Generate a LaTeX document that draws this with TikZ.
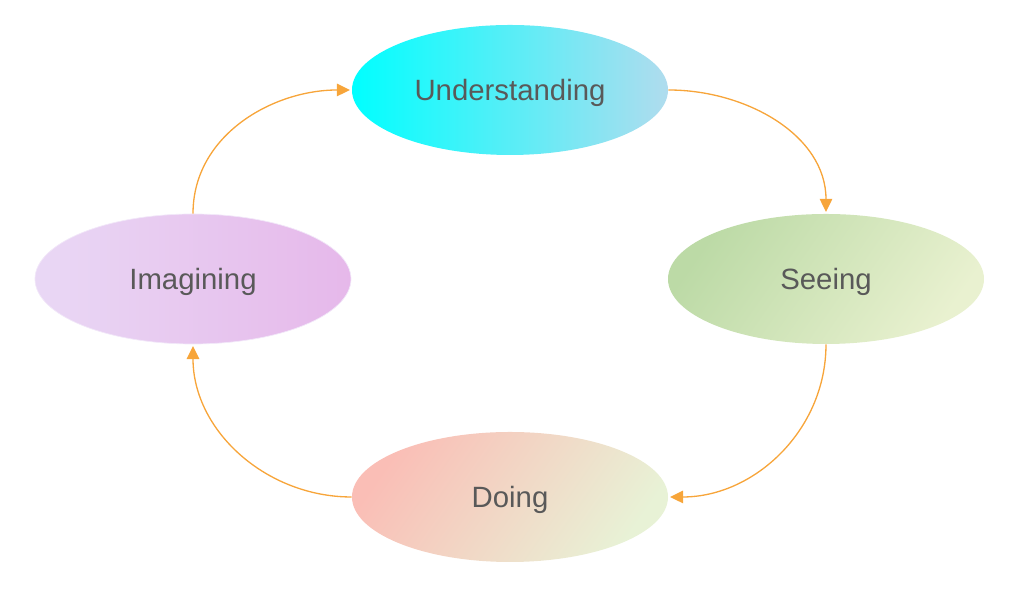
\documentclass[tikz,border=0pt]{standalone}
\usepackage{fontspec}
\setmainfont{Liberation Sans}
\usepackage{tikz}
\usetikzlibrary{arrows.meta,shapes.geometric}
\usetikzlibrary{positioning}

\definecolor{arrowc}{RGB}{247,165,58}
\definecolor{textc}{RGB}{89,89,89}
\definecolor{uleft}{RGB}{0,255,255}
\definecolor{uright}{RGB}{176,220,238}
\definecolor{ileft}{RGB}{233,216,245}
\definecolor{iright}{RGB}{230,184,234}
\definecolor{sleft}{RGB}{188,218,166}
\definecolor{sright}{RGB}{233,241,208}
\definecolor{dleft}{RGB}{250,190,182}
\definecolor{dright}{RGB}{232,242,214}

\tikzset{
  phase/.style={ellipse,minimum width=6.32cm,minimum height=2.6cm,inner sep=0pt,
    text depth=0pt,text=textc,font=\fontsize{16.7}{20}\selectfont},
  cycle/.style={draw=arrowc,line width=0.75pt,-{Triangle[length=0.26cm,width=0.25cm]},shorten >=1pt}
}

\begin{document}
\begin{tikzpicture}
\useasboundingbox (0,0) rectangle (20.48,12.22);
\node at (10.2,10.42)[phase,left color=uleft,right color=uright](underst){Understanding};
\node at (16.52,6.64)[phase,left color=sleft,right color=sright,shading angle=55](seeing){Seeing};
\node at (10.2,2.28)[phase,left color=dleft,right color=dright,shading angle=55](doing){Doing};
\node at (3.86,6.64)[phase,left color=ileft,right color=iright,draw=ileft!60!white,line width=0.4pt](imagin){Imagining};
\draw[cycle] (underst.east) to[out=0,in=90] (seeing.north);
\draw[cycle] (seeing.south) to[out=-90,in=0] (doing.east);
\draw[cycle] (doing.west) to[out=180,in=-90] (imagin.south);
\draw[cycle] (imagin.north) to[out=90,in=180] (underst.west);
\end{tikzpicture}
\end{document}
